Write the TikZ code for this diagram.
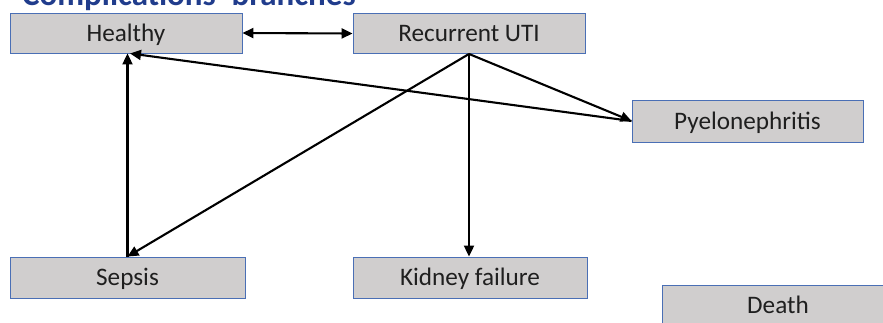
\documentclass[tikz,border=0pt]{standalone}
\usepackage{fontspec}
\setmainfont{Carlito}
\usetikzlibrary{arrows.meta}
\definecolor{boxfill}{HTML}{D0CECE}
\definecolor{boxline}{HTML}{4A6FB5}
\definecolor{titleblue}{HTML}{203C8C}
\begin{document}
\begin{tikzpicture}[x=1pt,y=-1pt,
  state/.style={draw=boxline, line width=0.9pt, fill=boxfill, minimum width=232pt, minimum height=40pt, inner sep=0pt, text height=16pt, text depth=0pt, font=\fontsize{25.2}{28}\selectfont, text=black!88},
  link/.style={line width=2.1pt, -{Triangle[length=11pt,width=10pt]}}]
\useasboundingbox (0,0) rectangle (883,322);
\clip (0,0) rectangle (883,322);
\node[anchor=base west, font=\bfseries\fontsize{33}{36}\selectfont, text=titleblue, inner sep=0pt] (title) at (22,5) {Complications' branches};
\node[state] (hea) at (126,33) {Healthy};
\node[state] (uti) at (469,33.5) {Recurrent UTI};
\node[state, minimum width=231pt, minimum height=42pt] (pye) at (747.5,121) {Pyelonephritis};
\node[state, minimum width=235pt, minimum height=41pt] (sep) at (127.5,277.5) {Sepsis};
\node[state, minimum width=234pt, minimum height=41pt] (kid) at (470,277.5) {Kidney failure};
\node[state, minimum height=41pt] (dea) at (778,305.5) {Death};
\draw[link, {Triangle[length=11pt,width=10pt]}-{Triangle[length=11pt,width=10pt]}] (hea.east) -- (uti.west);
\draw[link] (uti.south) -- (pye.west);
\draw[link] (uti.south) -- (uti.south |- kid.north);
\draw[link] (uti.south) -- (sep.north);
\draw[link] (sep.north) -- (sep.north |- hea.south);
\draw[link] (pye.west) -- ([xshift=4pt]hea.south);
\end{tikzpicture}
\end{document}
